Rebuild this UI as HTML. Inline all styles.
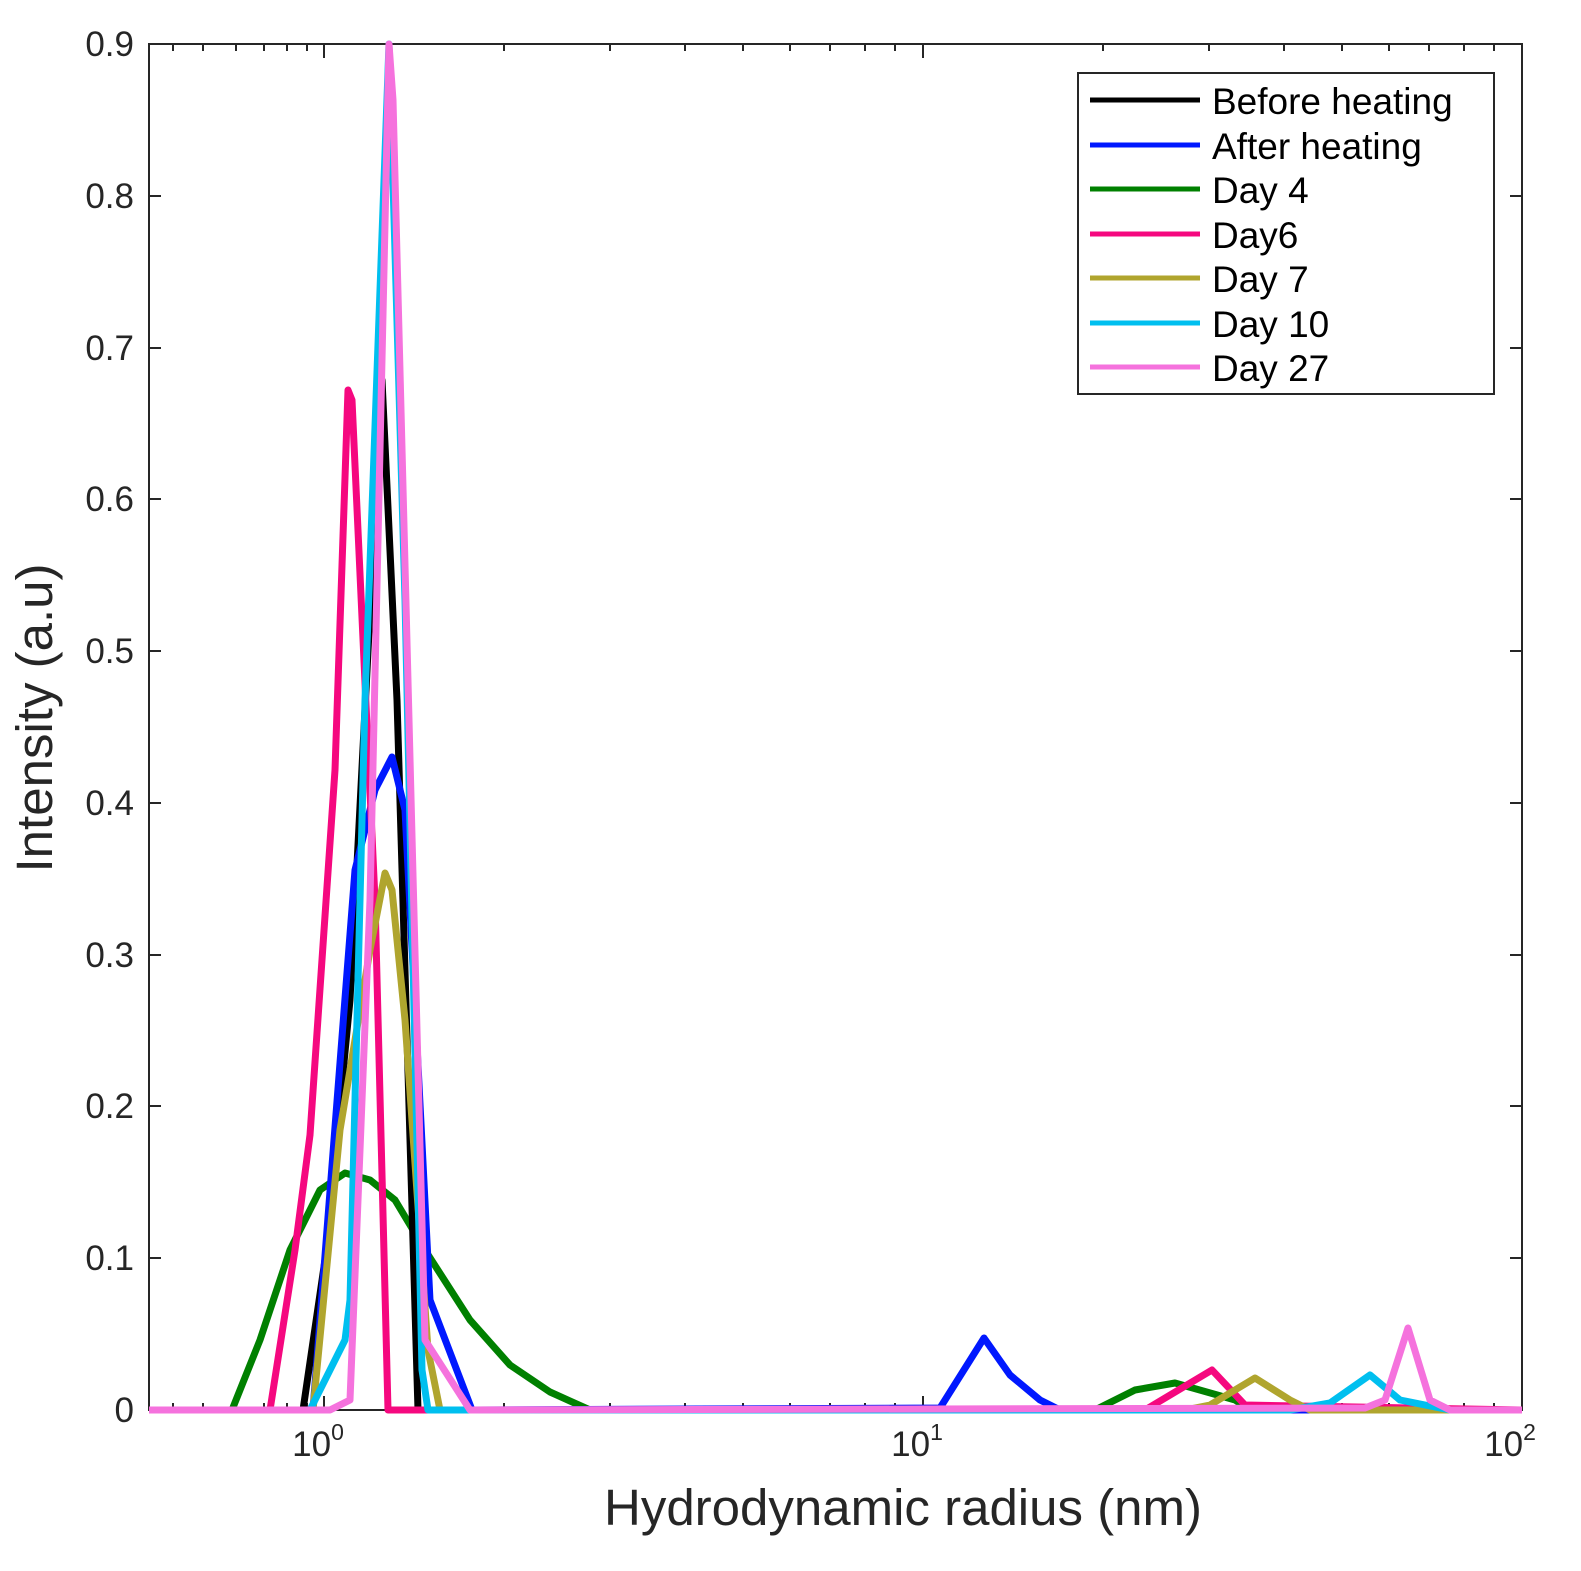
<!DOCTYPE html>
<html><head><style>body{margin:0;background:#fff}svg{display:block}</style></head><body>
<svg width="1581" height="1571" xmlns="http://www.w3.org/2000/svg" font-family="Liberation Sans, Arial, sans-serif">
<rect x="149" y="44" width="1373" height="1366" fill="#fff" stroke="#262626" stroke-width="2"/>
<g stroke="#262626" stroke-width="2">
<path d="M149 1410h12M149 1258h12M149 1106h12M149 955h12M149 803h12M149 651h12M149 499h12M149 348h12M149 196h12M149 44h12
M1522 1410h-12M1522 1258h-12M1522 1106h-12M1522 955h-12M1522 803h-12M1522 651h-12M1522 499h-12M1522 348h-12M1522 196h-12M1522 44h-12"/>
<path d="M324 1410v-14M923 1410v-14M324 44v14M923 44v14"/>
<path d="M149 1410v-7M173 1410v-7M203 1410v-7M236 1410v-7M264 1410v-7M287 1410v-7M307 1410v-7M504 1410v-7M610 1410v-7M685 1410v-7M743 1410v-7M790 1410v-7M830 1410v-7M865 1410v-7M895 1410v-7M1103 1410v-7M1209 1410v-7M1284 1410v-7M1342 1410v-7M1389 1410v-7M1429 1410v-7M1464 1410v-7M1494 1410v-7
M149 44v7M173 44v7M203 44v7M236 44v7M264 44v7M287 44v7M307 44v7M504 44v7M610 44v7M685 44v7M743 44v7M790 44v7M830 44v7M865 44v7M895 44v7M1103 44v7M1209 44v7M1284 44v7M1342 44v7M1389 44v7M1429 44v7M1464 44v7M1494 44v7"/>
</g>
<g font-size="35" fill="#262626" text-anchor="end">
<text x="134" y="1422">0</text><text x="134" y="1270">0.1</text><text x="134" y="1118">0.2</text><text x="134" y="967">0.3</text><text x="134" y="815">0.4</text><text x="134" y="663">0.5</text><text x="134" y="511">0.6</text><text x="134" y="360">0.7</text><text x="134" y="208">0.8</text><text x="134" y="56">0.9</text>
</g>
<g font-size="35" fill="#262626" text-anchor="middle">
<text x="318" y="1456">10<tspan dy="-16" font-size="23">0</tspan></text>
<text x="917" y="1456">10<tspan dy="-16" font-size="23">1</tspan></text>
<text x="1510" y="1456">10<tspan dy="-16" font-size="23">2</tspan></text>
<text x="903" y="1525" font-size="51">Hydrodynamic radius (nm)</text>
<text transform="translate(52 718) rotate(-90)" font-size="51">Intensity (a.u)</text>
</g>
<g fill="none" stroke-width="7" stroke-linejoin="round">
<polyline stroke="#008000" points="149,1410 232,1410 260,1340 290,1250 320,1190 345,1173 370,1180 395,1200 425,1250 470,1320 510,1365 550,1392 590,1410 1095,1410 1135,1390 1175,1383 1235,1400 1250,1410 1522,1410"/>
<polyline stroke="#000000" points="149,1410 303,1410 325,1260 350,1000 382,380 397,700 418,1410 1522,1410"/>
<polyline stroke="#0018ff" points="149,1410 313,1410 355,870 375,790 392,757 405,810 430,1300 472,1410 940,1408 984,1338 1010,1375 1040,1400 1060,1410 1522,1410"/>
<polyline stroke="#f5087f" points="149,1410 270,1410 295,1250 310,1135 335,770 348,390 352,400 375,900 388,1410 1145,1410 1212,1370 1245,1405 1522,1410"/>
<polyline stroke="#b0a52e" points="149,1410 313,1410 340,1130 370,950 385,873 392,890 405,1020 428,1350 440,1410 1185,1410 1210,1405 1255,1378 1290,1400 1310,1410 1522,1410"/>
<polyline stroke="#00bfef" points="149,1410 310,1410 345,1340 350,1300 365,700 389,44 405,600 422,1370 428,1410 1290,1410 1330,1403 1370,1375 1400,1400 1450,1410 1522,1410"/>
<polyline stroke="#f572dd" points="149,1410 330,1410 350,1400 370,900 389,44 393,100 425,1340 470,1410 1365,1408 1385,1400 1408,1328 1430,1400 1450,1410 1522,1410"/>
</g>
<rect x="1078" y="73" width="416" height="321" fill="#fff" stroke="#262626" stroke-width="2"/>
<g stroke-width="5">
<line x1="1090" y1="100" x2="1200" y2="100" stroke="#000"/>
<line x1="1090" y1="145" x2="1200" y2="145" stroke="#0018ff"/>
<line x1="1090" y1="189" x2="1200" y2="189" stroke="#008000"/>
<line x1="1090" y1="234" x2="1200" y2="234" stroke="#f5087f"/>
<line x1="1090" y1="278" x2="1200" y2="278" stroke="#b0a52e"/>
<line x1="1090" y1="323" x2="1200" y2="323" stroke="#00bfef"/>
<line x1="1090" y1="367" x2="1200" y2="367" stroke="#f572dd"/>
</g>
<g font-size="37" fill="#000">
<text x="1212" y="114">Before heating</text>
<text x="1212" y="159">After heating</text>
<text x="1212" y="203">Day 4</text>
<text x="1212" y="248">Day6</text>
<text x="1212" y="292">Day 7</text>
<text x="1212" y="337">Day 10</text>
<text x="1212" y="381">Day 27</text>
</g>
</svg>
</body></html>
